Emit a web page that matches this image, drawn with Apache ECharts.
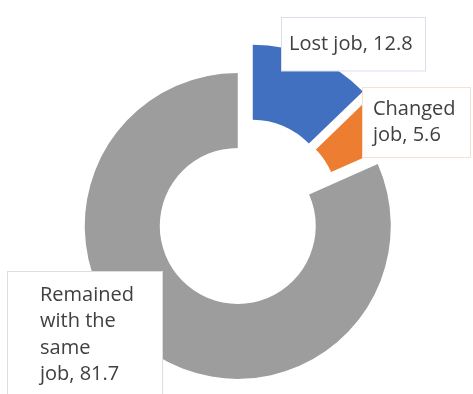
<!DOCTYPE html>
<html>
<head>
<meta charset="utf-8">
<script src="https://cdn.jsdelivr.net/npm/echarts@6/dist/echarts.min.js"></script>
<style>
  html, body { margin: 0; padding: 0; background: #fff; }
  #chart { width: 473px; height: 394px; }
</style>
</head>
<body>
<div id="chart"></div>
<script>
// data
var categories = ['Lost job', 'Changed job', 'Remained with the same job'];
var values = [12.8, 5.6, 81.7];
// how the callouts break their lines (value goes after the last piece)
var labelLines = [['Lost job, '], ['Changed', 'job, '], ['Remained', 'with the', 'same', 'job, ']];

var colors = ['#4270c0', '#ED7D31', '#9d9d9d'];
var boxBorders = ['#d9dfeb', '#f9dfcf', '#dedede'];

// label boxes: top-left corner, text width, padding [t, r, b, l]
var labelPos = [[282, 18], [363, 88], [8, 272]];
var labelWidth = [128, 90, 100];
var labelPad = [[13, 8, 13, 7], [8, 7, 8, 10], [10, 22, 24, 32]];

var pieCenter = [246.5, 212.5];
var explode = 16;

var chart = echarts.init(document.getElementById('chart'));

var total = 0;
for (var i = 0; i < values.length; i++) total += values[i];

// each slice is its own pie series so it can be pulled out along its mid angle
function slice_series(k) {

    var before = 0;
    for (var i = 0; i < k; i++) before += values[i];
    var mid = (before + values[k] / 2) / total * 2 * Math.PI;
    var cx = pieCenter[0] + explode * Math.sin(mid);
    var cy = pieCenter[1] - explode * Math.cos(mid);

    var data = [];
    for (var j = 0; j < categories.length; j++) {
        if (j === k) {
            data.push({
                name: categories[j],
                value: values[j],
                itemStyle: { color: colors[j] },
                label: {
                    show: true,
                    borderColor: boxBorders[j],
                    width: labelWidth[j],
                    padding: labelPad[j]
                }
            });
        } else {
            data.push({
                name: categories[j],
                value: values[j],
                itemStyle: { color: 'rgba(0,0,0,0)' },
                label: { show: false }
            });
        }
    }

    return {
        type: 'pie',
        center: [cx, cy],
        radius: [78, 153],
        startAngle: 90,
        clockwise: true,
        avoidLabelOverlap: false,
        silent: true,
        z: k === 2 ? 1 : 2,
        itemStyle: { borderWidth: 0 },
        emphasis: { disabled: true },
        labelLine: { show: false },
        label: {
            position: 'outside',
            fontFamily: 'Open Sans',
            fontSize: 20,
            lineHeight: 26.5,
            color: '#404040',
            backgroundColor: '#ffffff',
            borderWidth: 1,
            align: 'left',
            overflow: 'none',
            formatter: function (p) {
                var lines = labelLines[p.dataIndex].slice();
                lines[lines.length - 1] += p.value;
                return lines.join('\n');
            }
        },
        labelLayout: function (p) {
            return {
                x: labelPos[p.dataIndex][0],
                y: labelPos[p.dataIndex][1],
                align: 'left',
                verticalAlign: 'top'
            };
        },
        data: data
    };
}

var series = [];
for (var k = 0; k < categories.length; k++) series.push(slice_series(k));

chart.setOption({
    animation: false,
    series: series
});
</script>
</body>
</html>
